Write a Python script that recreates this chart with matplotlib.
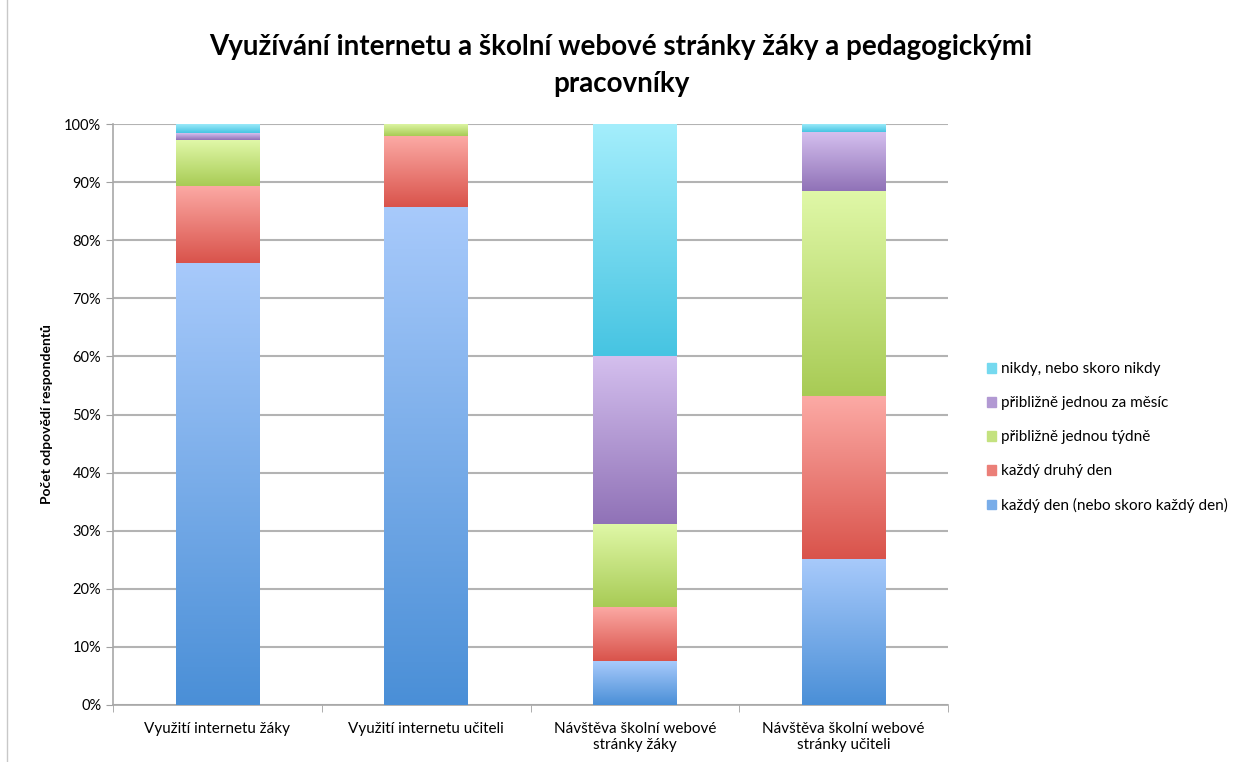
import numpy as np
import matplotlib
matplotlib.use("Agg")
import matplotlib.pyplot as plt
from matplotlib.patches import Rectangle
from matplotlib.colors import LinearSegmentedColormap
from matplotlib.ticker import PercentFormatter

plt.rcParams['font.family'] = ['Lato', 'DejaVu Sans']

categories = ["Využití internetu žáky", "Využití internetu učiteli",
              "Návštěva školní webové\nstránky žáky", "Návštěva školní webové\nstránky učiteli"]
series = ["každý den (nebo skoro každý den)", "každý druhý den",
          "přibližně jednou týdně", "přibližně jednou za měsíc",
          "nikdy, nebo skoro nikdy"]
values = {
    "každý den (nebo skoro každý den)": [76.1, 85.8, 7.5, 25.2],
    "každý druhý den": [13.3, 12.1, 9.4, 28.0],
    "přibližně jednou týdně": [7.8, 2.1, 14.3, 35.3],
    "přibližně jednou za měsíc": [1.2, 0.0, 28.9, 10.1],
    "nikdy, nebo skoro nikdy": [1.6, 0.0, 39.9, 1.4],
}
# top colour, bottom colour of each gradient
colors = {
    "každý den (nebo skoro každý den)": ("#a8cafb", "#4a8fd7"),
    "každý druhý den": ("#fcaaa5", "#d9534b"),
    "přibližně jednou týdně": ("#e0f8a8", "#a8cb55"),
    "přibližně jednou za měsíc": ("#d4bfee", "#9072b7"),
    "nikdy, nebo skoro nikdy": ("#a4eefc", "#46c4e2"),
}

fig = plt.figure(figsize=(12.42, 7.62), dpi=100)
ax = fig.add_axes([113/1242, 57/762, 835/1242, 581/762])

x = np.arange(len(categories))
bottom = np.zeros(len(categories))
handles = []
for s in series:
    v = np.array(values[s])
    top_c, bot_c = colors[s]
    bars = ax.bar(x, v, 0.4, bottom=bottom, color="none", edgecolor="none", zorder=3)
    cmap = LinearSegmentedColormap.from_list(s, [bot_c, top_c])
    grad = np.linspace(1, 0, 256).reshape(-1, 1)
    for p in bars.patches:
        if p.get_height() <= 0:
            continue
        x0, y0 = p.get_x(), p.get_y()
        ax.imshow(grad, cmap=cmap, aspect="auto", zorder=3, vmin=0, vmax=1,
                  extent=[x0, x0 + p.get_width(), y0, y0 + p.get_height()])
    handles.append(Rectangle((0, 0), 1, 1, color=cmap(0.5)))
    bottom += v

ax.set_xlim(-0.5, len(categories) - 0.5)
ax.set_ylim(0, 100)
ax.set_yticks(np.arange(0, 101, 10))
ax.yaxis.set_major_formatter(PercentFormatter(decimals=0))
ax.set_xticks(x)
ax.set_xticklabels(categories, fontsize=11)
ax.set_xticks(np.arange(-0.5, len(categories)), minor=True)
ax.tick_params(axis="x", which="major", length=0, pad=12)
ax.tick_params(axis="x", which="minor", length=5, color="#a0a0a0")
ax.tick_params(axis="y", length=5, color="#a0a0a0", labelsize=10.5)
ax.grid(axis="y", color="#b3b3b3", linewidth=1.5, zorder=0)
for side in ["top", "right"]:
    ax.spines[side].set_visible(False)
for side in ["left", "bottom"]:
    ax.spines[side].set_color("#a8a8a8")
    ax.spines[side].set_linewidth(1.2)

ax.set_ylabel("Počet odpovědí respondentů", fontsize=10, fontweight="bold", labelpad=8)
fig.suptitle("Využívání internetu a školní webové stránky žáky a pedagogickými\npracovníky",
             fontsize=20, fontweight="bold", y=0.955, linespacing=1.5)

ax.legend(handles[::-1], series[::-1], loc="center left", bbox_to_anchor=(1.03, 0.46),
          frameon=False, fontsize=11, handlelength=0.6, handleheight=0.6,
          handletextpad=0.3, labelspacing=1.3)

fig.add_artist(plt.Line2D([7/1242, 7/1242], [0, 1], color="#c8c8c8", linewidth=1))

fig.savefig("out.png", dpi=100)
